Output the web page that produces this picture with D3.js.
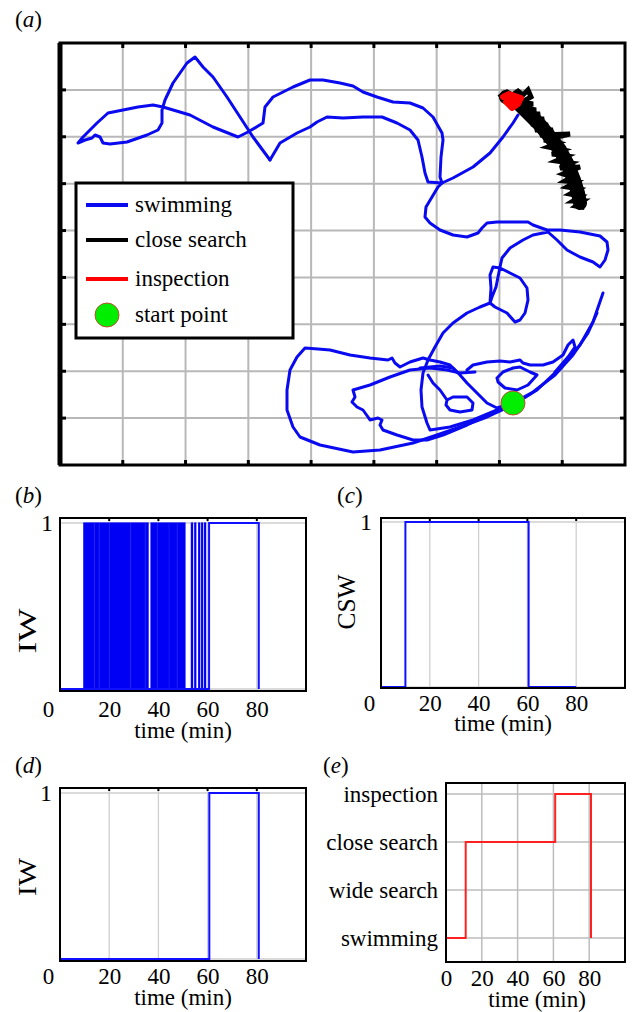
<!DOCTYPE html>
<html><head><meta charset="utf-8">
<script src="https://cdn.jsdelivr.net/npm/d3@7"></script>
<style>
body{margin:0;background:#fff}
svg{display:block}
</style>
</head><body>
<svg id="fig" width="632" height="1012"></svg>
<script>
// ---------- DATA ----------
// (a) track coordinates (arbitrary tracking units, x right, y up)
const swimA = [[210,305],[193,328],[180,348],[167,368],[153,388],[143,398],[135,408],[127,402],[113,382],[105,365],[102,355],[102,342],[98,335],[87,330],[67,323],[50,321],[43,322],[40,328],[35,330],[32,327],[25,325],[18,322],[23,328],[37,342],[48,352],[63,355],[78,358],[93,360],[103,358],[130,350],[153,338],[178,328],[188,333],[203,342],[205,358],[213,368],[233,378],[250,385],[263,385],[280,382],[293,379],[303,373],[317,368],[333,363],[350,362],[363,357],[373,348],[382,332],[383,325],[381,308],[380,288],[382,282]];
const swimB = [[210,305],[220,322],[237,332],[250,338],[257,343],[267,348],[283,347],[303,348],[322,348],[337,342],[350,335],[358,325],[362,308],[365,292],[368,283],[382,282],[393,287],[413,298],[430,312],[443,328],[453,342],[458,350]];
const swimC = [[382,282],[378,278],[372,268],[366,258],[365,248],[370,242],[380,235],[393,230],[407,228],[418,232],[422,237],[427,242],[437,243],[453,243],[468,243],[473,240],[487,235],[500,235],[520,233],[540,229],[547,223],[548,215],[545,205],[540,198],[533,203],[520,208],[507,215],[497,225],[488,233],[473,230],[463,225],[450,217],[442,207],[440,198],[438,188],[436,178],[432,168],[430,162],[435,158],[447,152],[455,143],[460,145],[465,152],[468,165],[467,177],[460,187],[450,192],[440,197],[433,198],[430,190],[431,177],[430,162],[420,158],[407,152],[393,142],[383,132],[375,118],[368,105],[363,92],[361,75],[362,58],[367,42],[370,35],[390,38],[413,45],[437,55],[453,62]];
const swimD = [[397,93],[390,100],[380,103],[370,105],[363,107],[350,103],[340,98],[335,102],[332,107],[328,105],[310,107],[290,110],[270,115],[258,116],[245,117],[237,108],[230,95],[227,75],[227,55],[233,38],[240,28],[260,20],[293,13],[320,15],[353,22],[377,30],[400,38],[427,48],[453,60],[477,75],[500,97],[520,120],[533,143],[543,172]];
const swimE = [[415,93],[400,92],[387,95],[370,97],[350,95],[330,88],[310,80],[293,75],[295,68],[292,63],[297,58],[303,55],[308,48],[310,45],[318,47],[322,45],[320,40],[323,35],[337,30],[353,25],[367,25],[383,30],[407,40],[430,51],[453,62],[473,73],[495,90],[513,110],[528,132],[537,152]];
const swimF = [[368,90],[373,82],[380,75],[387,65],[393,68],[407,68],[413,62],[412,55],[400,53],[390,55],[386,60],[387,65]];
const swimG = [[360,97],[370,98],[380,99],[393,97],[400,90],[407,82],[417,72],[427,62],[437,57],[453,62]];
const swimH = [[407,95],[413,100],[427,103],[440,104],[450,103],[460,105],[463,102],[470,100],[483,100],[493,103],[503,110],[508,120],[513,125],[515,118],[508,108],[495,93]];
const swimI = [[437,87],[443,93],[453,97],[460,98],[470,93],[477,90],[468,80],[457,75],[445,77],[438,83],[437,87]];
const swimSegments = [swimA, swimB, swimC, swimD, swimE, swimF, swimG, swimH, swimI];
const closeSearch = [[441,369],[447,373],[452,370],[458,374],[463,370],[468,375],[471,368],[462,363],[473,361],[460,358],[476,355],[464,352],[480,351],[467,347],[484,346],[471,341],[488,340],[475,335],[493,335],[480,330],[510,331],[484,325],[498,322],[488,318],[503,315],[492,311],[507,309],[496,304],[511,302],[500,297],[520,298],[503,291],[512,288],[505,284],[516,283],[507,278],[519,276],[510,271],[521,269],[513,264],[523,264],[516,259],[522,258]];
const closeSearchCore = [[446,368],[458,362],[470,350],[480,340],[490,328],[500,315],[508,300],[514,285],[518,272],[520,262]];
const inspection = [[443,368],[449,371],[455,369],[461,367],[458,361],[452,357],[446,363],[452,366],[457,364],[451,361]];
const startPoint = [453,62];
const legendItems = ["swimming","close search","inspection","start point"];
const legendColors = ["#0a0af0","#000000","#ff0000","#00ee00"];

// (b) IW: rapid toggling bursts (start/end, min) and final step signal
const iwBurstStart = [9.7,14.2,16.2,20.3,28.9,34.9,37.0,39.8,44.6,47.9,53.4,54.8,56.4,57.6,58.8];
const iwBurstEnd   = [13.8,15.8,19.9,28.5,34.5,35.8,39.4,44.2,47.5,50.8,53.9,55.2,56.8,58.0,59.2];
const iwTimeB  = [0, 60.6, 80.8];
const iwValueB = [0, 1, 0];
// (c) CSW
const cswTime  = [0, 10, 60.5, 80];
const cswValue = [0, 1, 0, 0];
// (d) IW
const iwTimeD  = [0, 60.7, 80.8];
const iwValueD = [0, 1, 0];
// (e) state
const stateNames = ["swimming","wide search","close search","inspection"];
const stateTime  = [0, 11, 61, 81];
const stateValue = ["swimming","close search","inspection","swimming"];
const timeTicks = [0,20,40,60,80];

// ---------- DRAW ----------
const FONT = "'Liberation Serif','Times New Roman',Times,'Nimbus Roman','DejaVu Serif',serif";
const svg = d3.select("#fig");
const FS = 23;

function panelLabel(x, y, letter){
  const t = svg.append("text").attr("x",x).attr("y",y).attr("font-size",FS);
  t.append("tspan").text("(");
  t.append("tspan").attr("font-style","italic").text(letter);
  t.append("tspan").text(")");
}

// ---- panel (a)
(function(){
  const L=60,R=625,T=43,B=465;
  const x = d3.scaleLinear().domain([0,565]).range([L,R]);
  const y = d3.scaleLinear().domain([0,422]).range([B,T]);
  const gx = d3.range(1,9).map(i=>i*565/9);
  const gy = d3.range(1,9).map(i=>i*422/9);
  const g = svg.append("g");
  g.selectAll(".gx").data(gx).join("line").attr("x1",d=>x(d)).attr("x2",d=>x(d)).attr("y1",T).attr("y2",B)
    .attr("stroke","#b8b8b8").attr("stroke-width",2);
  g.selectAll(".gy").data(gy).join("line").attr("y1",d=>y(d)).attr("y2",d=>y(d)).attr("x1",L).attr("x2",R)
    .attr("stroke","#b8b8b8").attr("stroke-width",2);
  const line = d3.line().x(d=>x(d[0])).y(d=>y(d[1]));
  g.selectAll(".sw").data(swimSegments).join("path").attr("d",line).attr("fill","none")
    .attr("stroke","#0a0af0").attr("stroke-width",3).attr("stroke-linejoin","round").attr("stroke-linecap","round");
  g.append("path").attr("d",line(closeSearchCore)).attr("fill","none").attr("stroke","#000")
    .attr("stroke-width",14).attr("stroke-linejoin","round").attr("stroke-linecap","round");
  g.append("path").attr("d",line(closeSearch)).attr("fill","none").attr("stroke","#000")
    .attr("stroke-width",5).attr("stroke-linejoin","miter").attr("stroke-linecap","square");
  g.append("path").attr("d",line(inspection)).attr("fill","#ff0000").attr("stroke","#ff0000")
    .attr("stroke-width",6).attr("stroke-linejoin","round").attr("stroke-linecap","round");
  g.append("circle").attr("cx",x(startPoint[0])).attr("cy",y(startPoint[1])).attr("r",12)
    .attr("fill","#00ee00").attr("stroke","#c05030").attr("stroke-width",1);
  // frame & ticks
  g.append("rect").attr("x",L).attr("y",T).attr("width",R-L).attr("height",B-T).attr("fill","none").attr("stroke","#000").attr("stroke-width",3);
  g.append("line").attr("x1",L).attr("x2",L).attr("y1",T).attr("y2",B).attr("stroke","#000").attr("stroke-width",5);
  gx.forEach(d=>{
    g.append("line").attr("x1",x(d)).attr("x2",x(d)).attr("y1",T).attr("y2",T+5).attr("stroke","#000").attr("stroke-width",3);
    g.append("line").attr("x1",x(d)).attr("x2",x(d)).attr("y1",B).attr("y2",B-5).attr("stroke","#000").attr("stroke-width",3);
  });
  gy.forEach(d=>{
    g.append("line").attr("y1",y(d)).attr("y2",y(d)).attr("x1",L).attr("x2",L+6).attr("stroke","#000").attr("stroke-width",3);
    g.append("line").attr("y1",y(d)).attr("y2",y(d)).attr("x1",R).attr("x2",R-5).attr("stroke","#000").attr("stroke-width",3);
  });
  // legend
  const lg = svg.append("g");
  lg.append("rect").attr("x",76).attr("y",183).attr("width",217).attr("height",155).attr("fill","#fff").attr("stroke","#000").attr("stroke-width",3);
  const ly = [205,240,279,315];
  legendItems.forEach((name,i)=>{
    if(i<3){
      lg.append("line").attr("x1",86).attr("x2",128).attr("y1",ly[i]).attr("y2",ly[i]).attr("stroke",legendColors[i]).attr("stroke-width",4);
    } else {
      lg.append("circle").attr("cx",107).attr("cy",ly[i]).attr("r",12).attr("fill",legendColors[i]).attr("stroke","#c05030").attr("stroke-width",1);
    }
    lg.append("text").attr("x",135).attr("y",ly[i]+7).attr("font-size",FS).text(name);
  });
  panelLabel(15,27,"a");
})();

// ---- small step panels
function smallPanel(o){
  const x = d3.scaleLinear().domain([0,100]).range([o.L,o.R]);
  const y = d3.scaleLinear().domain([0,1]).range([o.y0,o.y1]);
  const g = svg.append("g");
  [20,40,60,80].forEach(d=>{
    g.append("line").attr("x1",x(d)).attr("x2",x(d)).attr("y1",o.T).attr("y2",o.B).attr("stroke","#cfcfcf").attr("stroke-width",1.3);
  });
  [0,1].forEach(d=>{
    g.append("line").attr("y1",y(d)).attr("y2",y(d)).attr("x1",o.L).attr("x2",o.R).attr("stroke","#cfcfcf").attr("stroke-width",1.3);
  });
  if(o.bursts){
    g.selectAll(".bu").data(o.bursts[0].map((s,i)=>[s,o.bursts[1][i]])).join("rect")
      .attr("x",d=>x(d[0])).attr("width",d=>x(d[1])-x(d[0])).attr("y",y(1)).attr("height",y(0)-y(1))
      .attr("fill","#0000f5").attr("stroke","#0000f5").attr("stroke-width",1.2);
  }
  const pts = o.t.map((t,i)=>[t,o.v[i]]);
  const line = d3.line().curve(d3.curveStepAfter).x(d=>x(d[0])).y(d=>y(d[1]));
  g.append("path").attr("d",line(pts)).attr("fill","none").attr("stroke","#1010ff").attr("stroke-width",2);
  g.append("rect").attr("x",o.L).attr("y",o.T).attr("width",o.R-o.L).attr("height",o.B-o.T).attr("fill","none").attr("stroke","#000").attr("stroke-width",2);
  [20,40,60,80].forEach(d=>{
    g.append("line").attr("x1",x(d)).attr("x2",x(d)).attr("y1",o.T).attr("y2",o.T+3).attr("stroke","#000").attr("stroke-width",2);
  });
  // axes
  const ax = g.append("g").attr("transform",`translate(0,${o.B})`)
    .call(d3.axisBottom(x).tickValues(timeTicks).tickSize(0).tickPadding(o.xpad));
  ax.select(".domain").remove();
  ax.selectAll("text").attr("font-size",FS).attr("dx",d=>d===0?-12:0);
  const ay = g.append("g").attr("transform",`translate(${o.L},0)`)
    .call(d3.axisLeft(y).tickValues([1]).tickFormat(d3.format("d")).tickSize(0).tickPadding(o.ypad));
  ay.select(".domain").remove();
  ay.selectAll("text").attr("font-size",FS+1);
  g.append("text").attr("x",(o.L+o.R)/2).attr("y",o.xlabY).attr("text-anchor","middle").attr("font-size",FS).text("time (min)");
  g.append("text").attr("transform",`translate(${o.ylabX},${o.ylabY}) rotate(-90)`).attr("text-anchor","middle")
    .attr("font-size",FS+2).attr("textLength",o.ylabLen).attr("lengthAdjust","spacingAndGlyphs").attr("dy","0.35em").text(o.ylab);
  panelLabel(o.labX,o.labY,o.letter);
}

smallPanel({L:60,R:306,T:518,B:691,y1:523,y0:689,t:iwTimeB,v:iwValueB,bursts:[iwBurstStart,iwBurstEnd],
  xpad:10,ypad:7,xlabY:738,ylab:"IW",ylabX:27,ylabY:631,ylabLen:45,labX:15,labY:503,letter:"b"});
smallPanel({L:381,R:625,T:518,B:688,y1:522,y0:687,t:cswTime,v:cswValue,
  xpad:7,ypad:9,xlabY:731,ylab:"CSW",ylabX:346,ylabY:602,ylabLen:55,labX:337,labY:503,letter:"c"});
smallPanel({L:60,R:306,T:788,B:961,y1:793,y0:959,t:iwTimeD,v:iwValueD,
  xpad:7,ypad:8,xlabY:1005,ylab:"IW",ylabX:27,ylabY:877,ylabLen:38,labX:15,labY:773,letter:"d"});

// ---- panel (e)
(function(){
  const L=446,R=625,T=783,B=962;
  const x = d3.scaleLinear().domain([0,100]).range([L,R]);
  const y = d3.scalePoint().domain(stateNames).range([938,794]);
  const g = svg.append("g");
  [20,40,60,80].forEach(d=>{
    g.append("line").attr("x1",x(d)).attr("x2",x(d)).attr("y1",T).attr("y2",B).attr("stroke","#bdbdbd").attr("stroke-width",1.5);
  });
  stateNames.forEach(s=>{
    g.append("line").attr("y1",y(s)).attr("y2",y(s)).attr("x1",L).attr("x2",R).attr("stroke","#bdbdbd").attr("stroke-width",1.5);
  });
  const pts = stateTime.map((t,i)=>[t,stateValue[i]]);
  const line = d3.line().curve(d3.curveStepAfter).x(d=>x(d[0])).y(d=>y(d[1]));
  g.append("path").attr("d",line(pts)).attr("fill","none").attr("stroke","#ff2020").attr("stroke-width",2);
  g.append("rect").attr("x",L).attr("y",T).attr("width",R-L).attr("height",B-T).attr("fill","none").attr("stroke","#000").attr("stroke-width",2);
  const ax = g.append("g").attr("transform",`translate(0,${B})`)
    .call(d3.axisBottom(x).tickValues(timeTicks).tickSize(0).tickPadding(8));
  ax.select(".domain").remove();
  ax.selectAll("text").attr("font-size",FS);
  const ay = g.append("g").attr("transform",`translate(${L},0)`)
    .call(d3.axisLeft(y).tickSize(0).tickPadding(8));
  ay.select(".domain").remove();
  ay.selectAll("text").attr("font-size",FS);
  g.append("text").attr("x",537).attr("y",1007).attr("text-anchor","middle").attr("font-size",FS).text("time (min)");
  panelLabel(323,773,"e");
})();

svg.selectAll("text").style("font-family",FONT).style("fill","#000");
svg.selectAll("g").filter(function(){return this.hasAttribute("font-family");}).attr("font-family",FONT);
</script>
</body></html>
